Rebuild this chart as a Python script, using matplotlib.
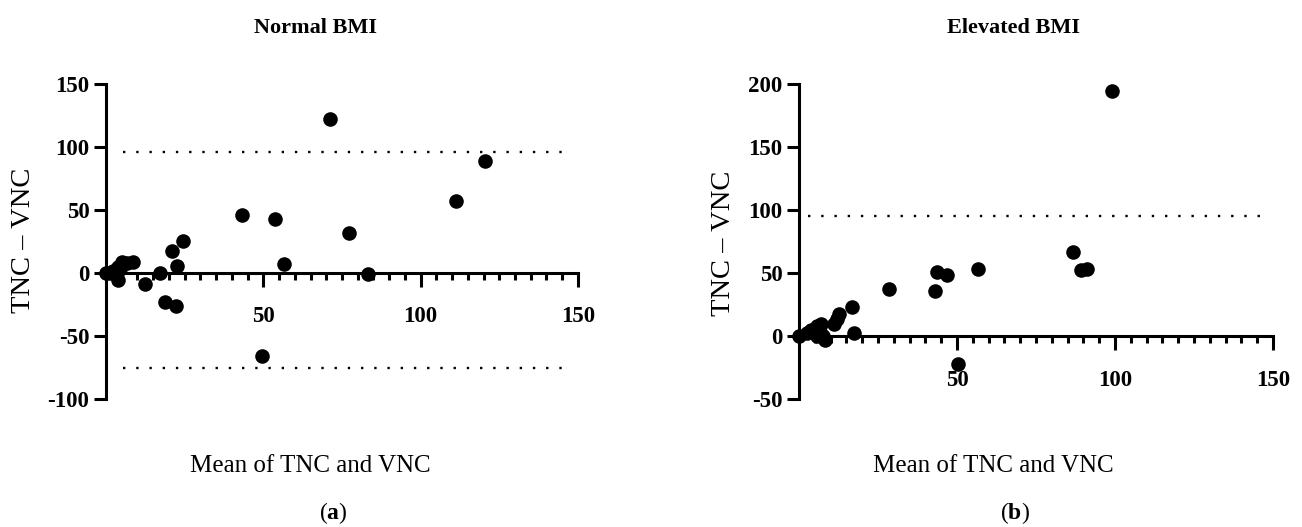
import matplotlib
matplotlib.use("Agg")
import matplotlib.pyplot as plt
from matplotlib.ticker import MultipleLocator

plt.rcParams['font.family'] = ['Liberation Serif', 'DejaVu Serif']
plt.rcParams['mathtext.fontset'] = 'custom'
plt.rcParams['mathtext.rm'] = 'Liberation Serif'
plt.rcParams['mathtext.bf'] = 'Liberation Serif:bold'
plt.rcParams['axes.unicode_minus'] = False

# Normal BMI: mean of TNC and VNC vs difference
normal_mean = [0, 1.3, 2.3, 3.9, 4.5, 5.0, 3.9, 6.6, 8.7, 12.4, 17.2, 18.7,
               20.9, 22.2, 22.7, 24.4, 43.3, 49.7, 53.7, 56.6, 71.2, 77.2,
               83.4, 111.2, 120.6]
normal_diff = [0, 0, 1.3, 5.0, 3.0, 9.0, -5.6, 7.7, 9.0, -9.0, 0, -22.8,
               17.5, -26.0, 5.6, 25.6, 46.0, -65.9, 42.6, 7.1, 122.0, 31.7,
               -0.8, 57.4, 88.9]
normal_loa = [96.3, -75.6]

# Elevated BMI
elev_mean = [0, 2.4, 3.9, 5.6, 6.9, 5.8, 6.7, 7.7, 8.2, 11.1, 11.9, 12.8,
             16.9, 17.3, 28.5, 43.0, 43.5, 46.9, 50.3, 56.7, 86.7, 89.1,
             91.2, 98.9]
elev_diff = [0, 2.7, 5.3, 8.0, 10.0, 0, 3.7, 0, -2.6, 10.1, 13.3, 18.0,
             23.4, 2.7, 37.7, 35.8, 51.2, 48.2, -21.7, 53.0, 67.0, 52.2,
             53.6, 194.3]
elev_loa = [95.4]

fig = plt.figure(figsize=(13.02, 5.27), dpi=100)
ax1 = fig.add_axes([0.0814, 0.2429, 0.3625, 0.5977])
ax2 = fig.add_axes([0.6137, 0.2423, 0.3641, 0.5983])


def style(ax, ylim, loa, line_span):
    ax.set_xlim(0, 150)
    ax.set_ylim(*ylim)
    ax.spines['top'].set_visible(False)
    ax.spines['right'].set_visible(False)
    ax.spines['bottom'].set_position(('data', 0))
    for s in ('left', 'bottom'):
        ax.spines[s].set_linewidth(2.2)
    ax.xaxis.set_major_locator(MultipleLocator(50))
    ax.xaxis.set_minor_locator(MultipleLocator(5))
    ax.yaxis.set_major_locator(MultipleLocator(50))
    ax.tick_params(axis='x', which='major', direction='out', length=10,
                   width=2.2, pad=14, labelsize=16.5)
    ax.tick_params(axis='x', which='minor', direction='out', length=5,
                   width=2.2)
    ax.tick_params(axis='y', which='major', direction='out', length=9,
                   width=2.2, pad=3, labelsize=16.5)
    ax.set_xticks([50, 100, 150])
    for lab in ax.get_xticklabels() + ax.get_yticklabels():
        lab.set_fontweight('bold')
    for v in loa:
        ax.plot(line_span, [v, v], color='black', linewidth=1.7,
                linestyle=(0, (1, 4.6)))


style(ax1, (-100, 150), normal_loa, [5.4, 147.5])
style(ax2, (-50, 200), elev_loa, [2.9, 147])

ax1.scatter(normal_mean, normal_diff, s=110, color='black', zorder=3,
            clip_on=False, linewidths=0)
ax2.scatter(elev_mean, elev_diff, s=110, color='black', zorder=3,
            clip_on=False, linewidths=0)

fig.text(315 / 1302, 1 - 28 / 527, 'Normal BMI', ha='center', va='center',
         fontsize=16, fontweight='bold')
fig.text(1013 / 1302, 1 - 28 / 527, 'Elevated BMI', ha='center',
         va='center', fontsize=16, fontweight='bold')
fig.text(310 / 1302, 1 - 466 / 527, 'Mean of TNC and VNC', ha='center',
         va='center', fontsize=18)
fig.text(993 / 1302, 1 - 466 / 527, 'Mean of TNC and VNC', ha='center',
         va='center', fontsize=18)
fig.text(24 / 1302, 1 - 240 / 527, 'TNC \u2013 VNC', ha='center',
         va='center', rotation=90, fontsize=20.5)
fig.text(724 / 1302, 1 - 243 / 527, 'TNC \u2013 VNC', ha='center',
         va='center', rotation=90, fontsize=20.5)
fig.text(333 / 1302, 1 - 513 / 527, r'($\mathbf{a}$)', ha='center',
         va='center', fontsize=17)
fig.text(1015 / 1302, 1 - 513 / 527, r'($\mathbf{b}$)', ha='center',
         va='center', fontsize=17)

fig.savefig('out.png', dpi=100)
